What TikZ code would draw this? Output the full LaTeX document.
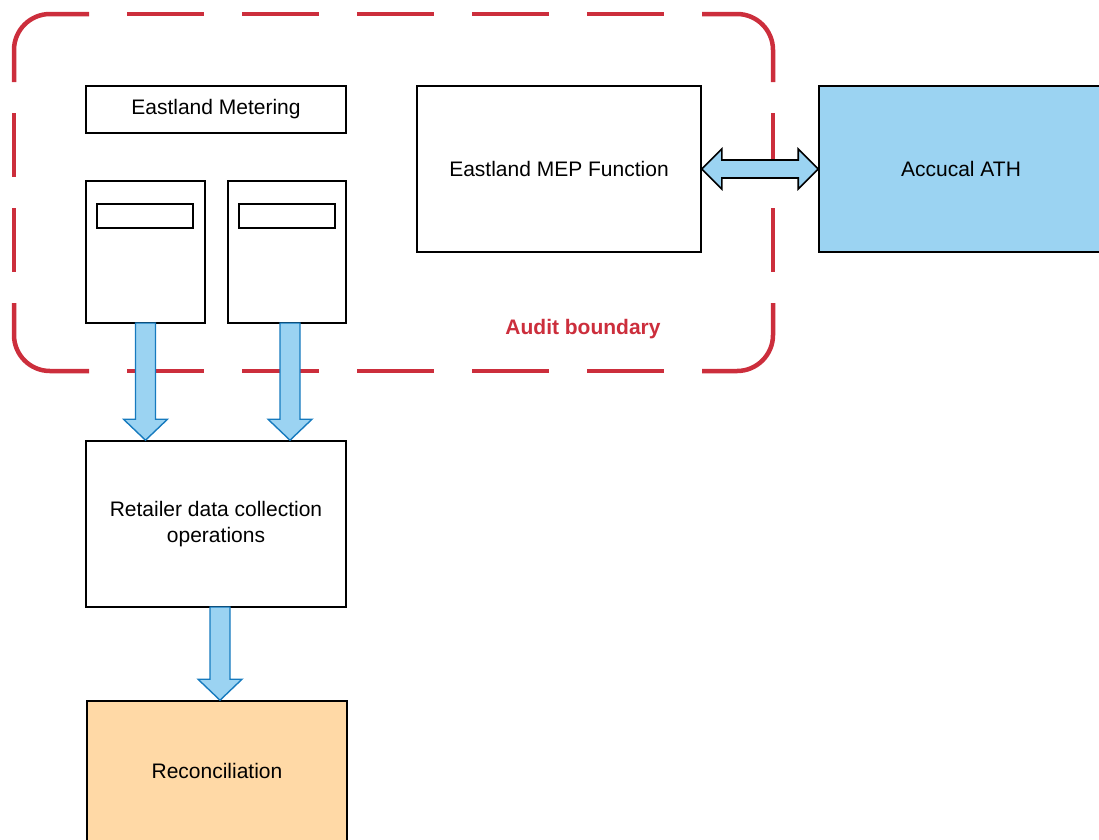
\documentclass[tikz,border=0pt]{standalone}
\usepackage{fontspec}
\setmainfont{Liberation Sans}
\usepackage{tikz}
\usetikzlibrary{calc}
\definecolor{auditred}{RGB}{204,46,60}
\definecolor{flowblue}{RGB}{155,211,242}
\definecolor{flowedge}{RGB}{22,122,190}
\definecolor{reconfill}{RGB}{255,217,166}
\pgfkeys{tikz/mybox/.style={draw=black, line width=1.6pt, fill=white,
                                align=center, inner sep=0pt,
                                font=\fontsize{21}{26}\selectfont}}
\pgfkeys{tikz/myflow/.style={draw=flowedge, fill=flowblue, line width=1.4pt,
                                 line join=miter}}
\pgfkeys{tikz/mylink/.style={draw=black, fill=flowblue, line width=1.6pt,
                                 line join=miter}}
\pgfkeys{tikz/myaudit/.style={draw=auditred, line width=4.5pt}}
\newcommand{\flowdown}[2]{%
  \draw[myflow] let \p1=(#1), \p2=(#2) in
    (\x1-10pt,\y1) -- (\x1-10pt,\y2+21pt) -- (\x1-22pt,\y2+21pt) -- (\x1,\y2)
    -- (\x1+22pt,\y2+21pt) -- (\x1+10pt,\y2+21pt) -- (\x1+10pt,\y1) -- cycle;}

\begin{document}
\begin{tikzpicture}[x=1pt, y=-1pt]
            \clip (0,0) rectangle (1099,839);

            % audit boundary: solid corners, dashed sides
            \draw[myaudit, rounded corners=36pt] (14,82) |- (89,14);
            \draw[myaudit, rounded corners=36pt] (702,14) -| (773,82);
            \draw[myaudit, rounded corners=36pt] (14,303) |- (89,371);
            \draw[myaudit, rounded corners=36pt] (702,371) -| (773,303);
            \foreach \yy in {14,371}
                \draw[myaudit, dash pattern=on 77pt off 38pt, dash phase=77pt] (89,\yy) -- (702,\yy);
            \foreach \xx in {14,773}
                \draw[myaudit, dash pattern=on 64pt off 31pt, dash phase=64pt] (\xx,82) -- (\xx,303);
            \node[text=auditred, font=\fontsize{21}{26}\selectfont\bfseries] (audit) at (583,329) {Audit boundary};

            \node[mybox, minimum width=260pt, minimum height=47pt] (metering) at (216,109.5) {Eastland Metering};

                    \node[mybox, minimum width=119pt, minimum height=142pt] (m1) at (145.5,252) {};
                    \node[mybox, minimum width=96pt, minimum height=24pt] (d1) at (145,216) {};
                    \node[mybox, minimum width=118pt, minimum height=142pt] (m2) at (287,252) {};
                    \node[mybox, minimum width=96pt, minimum height=24pt] (d2) at (287,216) {};

                    \node[mybox, minimum width=284pt, minimum height=166pt] (mep) at (559,169) {Eastland MEP Function};
                    \node[mybox, fill=flowblue, minimum width=284pt, minimum height=166pt] (ath) at (961,169) {Accucal ATH};

                    \node[mybox, minimum width=260pt, minimum height=166pt] (retail) at (216,524) {Retailer data collection\\operations};
                    \node[mybox, fill=reconfill, minimum width=260pt, minimum height=140pt] (recon) at (217,771) {Reconciliation};

                    % block arrows
                    \flowdown{$(m1.south)+(0,0.8pt)$}{m1.south |- retail.north}
                    \flowdown{$(m2.south)+(3pt,0.8pt)$}{$(m2.south |- retail.north)+(3pt,0)$}
                    \flowdown{$(retail.south)+(4pt,0.8pt)$}{$(retail.south |- recon.north)+(4pt,0)$}

                    \draw[mylink] let \p1=(mep.east), \p2=(ath.west) in
                        (\x1,\y1) -- (\x1+20pt,\y1+20pt) -- (\x1+20pt,\y1+9pt) -- (\x2-20pt,\y1+9pt)
                        -- (\x2-20pt,\y1+20pt) -- (\x2,\y1) -- (\x2-20pt,\y1-20pt) -- (\x2-20pt,\y1-9pt)
                        -- (\x1+20pt,\y1-9pt) -- (\x1+20pt,\y1-20pt) -- cycle;
        \end{tikzpicture}
\end{document}
